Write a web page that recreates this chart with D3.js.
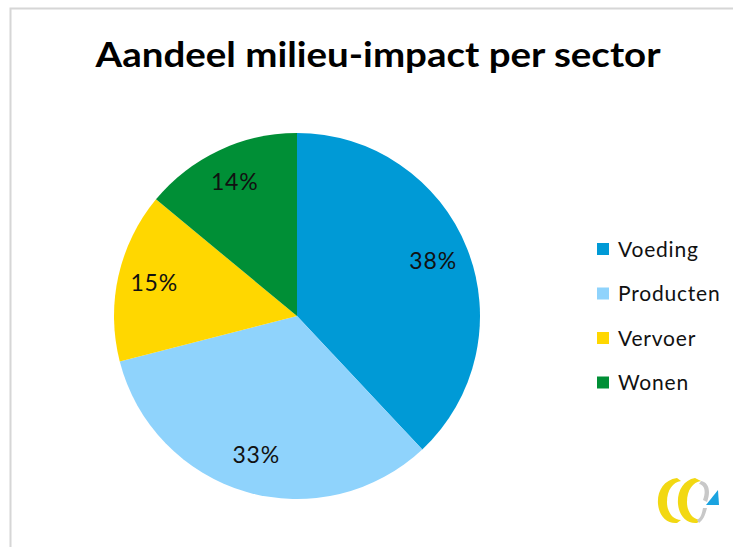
<!DOCTYPE html>
<html>
<head>
<meta charset="utf-8">
<script src="https://cdn.jsdelivr.net/npm/d3@7"></script>
<style>
  body { margin: 0; background: #fff; }
  svg text { font-family: Lato, "Open Sans", sans-serif; }
</style>
</head>
<body>
<script>
// data
var sectors = ["Voeding", "Producten", "Vervoer", "Wonen"];
var shares = [38, 33, 15, 14];
var colors = ["#009ad6", "#8fd3fc", "#ffd700", "#008f36"];

var width = 733, height = 547;
var svg = d3.select("body").append("svg")
    .attr("width", width)
    .attr("height", height);

// frame
svg.append("path")
   .attr("d", "M10.5,547 L10.5,8.5 L733,8.5")
   .attr("fill", "none")
   .attr("stroke", "#d6d6d6")
   .attr("stroke-width", 2);

// title
svg.append("text")
   .attr("x", 378)
   .attr("y", 67)
   .attr("text-anchor", "middle")
   .attr("font-size", 35)
   .attr("font-weight", "bold")
   .attr("textLength", 565)
   .attr("lengthAdjust", "spacingAndGlyphs")
   .text("Aandeel milieu-impact per sector");

var radius = 183;
var g = svg.append("g").attr("transform", "translate(297,316)");

var color = d3.scaleOrdinal().domain(sectors).range(colors);
var pie = d3.pie().sort(null).value(function(d, i) { return shares[i]; });
var arc = d3.arc().innerRadius(0).outerRadius(radius);
var label = d3.arc().innerRadius(radius * 0.8).outerRadius(radius * 0.8);

var arcs = g.selectAll(".arc")
    .data(pie(sectors))
    .enter()
    .append("g")
    .attr("class", "arc");

arcs.append("path")
    .attr("fill", function(d) { return color(d.data); })
    .attr("d", arc);

arcs.append("text")
    .attr("transform", function(d) { return "translate(" + label.centroid(d) + ")"; })
    .attr("text-anchor", "middle")
    .attr("dy", "0.3em")
    .attr("font-size", 23)
    .attr("letter-spacing", 0.8)
    .attr("fill", "#111")
    .text(function(d) { return d.value + "%"; });

// legend
var legend = svg.selectAll(".legend")
    .data(sectors)
    .enter()
    .append("g")
    .attr("class", "legend")
    .attr("transform", function(d, i) { return "translate(597," + (249 + i * 44.5) + ")"; });

legend.append("rect")
    .attr("x", 0)
    .attr("y", -6)
    .attr("width", 12)
    .attr("height", 12)
    .attr("fill", function(d) { return color(d); });

legend.append("text")
    .attr("x", 21)
    .attr("dy", "0.36em")
    .attr("font-size", 21)
    .attr("letter-spacing", 0.8)
    .attr("fill", "#111")
    .text(function(d) { return d; });

// little logo bottom right
var logo = svg.append("g").attr("transform", "translate(655,478)");
logo.append("path")
    .attr("d", "M22,0 C8,2 2,14 3,26 C4,38 12,46 22,45 L26,42 C18,42 12,34 12,24 C12,12 18,4 26,3 Z")
    .attr("fill", "#f2d813");
logo.append("path")
    .attr("d", "M40,0 C28,2 22,14 23,26 C24,38 32,46 42,45 L46,42 C38,42 32,34 32,24 C32,12 38,4 46,3 Z")
    .attr("fill", "#f2d813");
logo.append("path")
    .attr("d", "M46,3 C54,4 56,14 52,24 L48,22 C51,14 50,7 44,6 Z M52,30 C50,38 48,42 44,45 L42,42 C46,40 47,35 48,30 Z")
    .attr("fill", "#c8c8c8");
logo.append("path")
    .attr("d", "M51,27 L63,12 L64,27 Z")
    .attr("fill", "#1aa3e0");
</script>
</body>
</html>
